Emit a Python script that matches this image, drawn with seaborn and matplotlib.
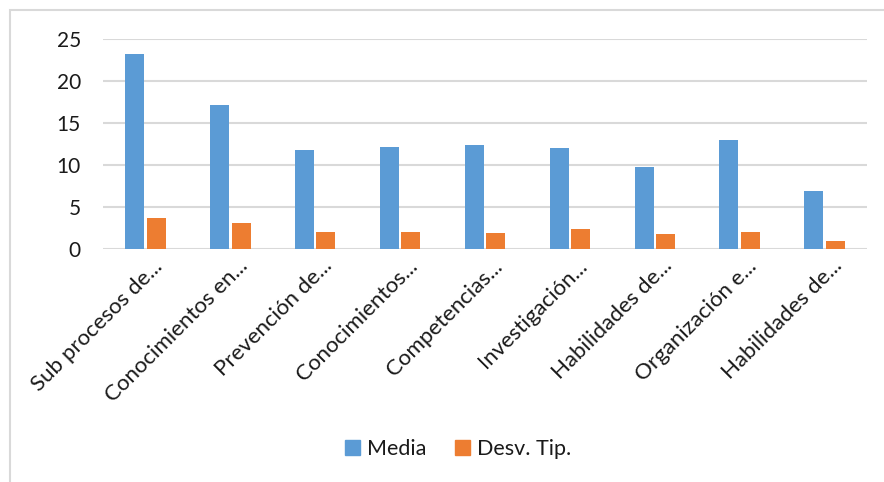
import matplotlib
matplotlib.use("Agg")
import matplotlib.pyplot as plt
import matplotlib.patches as mpatches
from matplotlib.transforms import ScaledTranslation
import seaborn as sns
import pandas as pd

categories = ["Sub procesos de...", "Conocimientos en...", "Prevención de...",
              "Conocimientos...", "Competencias...", "Investigación...",
              "Habilidades de...", "Organización e...", "Habilidades de..."]
media = [23.25, 17.2, 11.75, 12.1, 12.35, 12.0, 9.73, 12.94, 6.9]
desv = [3.74, 3.14, 2.02, 2.0, 1.95, 2.35, 1.83, 2.02, 0.95]
series = ["Media", "Desv. Tip."]
colors = ["#5B9BD5", "#ED7D31"]
yticks = [0, 5, 10, 15, 20, 25]

rows = []
for i, c in enumerate(categories):
    rows.append({"idx": i, "serie": series[0], "valor": media[i]})
    rows.append({"idx": i, "serie": series[1], "valor": desv[i]})
df = pd.DataFrame(rows)

sns.set_theme(style="white")
plt.rcParams["font.family"] = ["Lato", "DejaVu Sans"]

W, H = 884, 482
fig = plt.figure(figsize=(W / 100, H / 100), dpi=100)
ax = fig.add_axes([103 / W, 1 - 249 / H, 764 / W, 210 / H])

sns.barplot(data=df, x="idx", y="valor", hue="serie", hue_order=series,
            palette=colors, width=0.506, gap=0.115, ax=ax, legend=False,
            saturation=1, edgecolor="none")

ax.set_ylim(0, 25)
ax.set_xlim(-0.5, len(categories) - 0.5)
ax.set_yticks(yticks)
ax.set_yticklabels([str(v) for v in yticks])
ax.yaxis.grid(True, color="#d9d9d9", linewidth=1.5)
ax.set_axisbelow(True)
for s in ax.spines.values():
    s.set_visible(False)
ax.set_xlabel("")
ax.set_ylabel("")
ax.tick_params(axis="both", length=0, colors="#1a1a1a", labelsize=15)
ax.tick_params(axis="y", pad=16)
ax.set_xticks(range(len(categories)))
ax.set_xticklabels(categories, rotation=45, ha="right", va="top",
                   rotation_mode="anchor", fontsize=16)
ax.tick_params(axis="x", pad=5)
off = ScaledTranslation(7 / 100, 0, fig.dpi_scale_trans)
for lab in ax.get_xticklabels():
    lab.set_transform(lab.get_transform() + off)

handles = [mpatches.Patch(color=colors[0], label=series[0]),
           mpatches.Patch(color=colors[1], label=series[1])]
fig.legend(handles=handles, loc="center", bbox_to_anchor=(458 / W, 1 - 449 / H),
           ncol=2, frameon=False, fontsize=15.5, handlelength=0.7,
           handleheight=0.7, handletextpad=0.35, columnspacing=1.3,
           labelcolor="#1a1a1a")

frame = mpatches.Rectangle((10 / W, -0.2), 1.2, 1.2 - 10 / H,
                           transform=fig.transFigure, fill=False,
                           edgecolor="#d9d9d9", linewidth=1.5, clip_on=False)
fig.patches.append(frame)

fig.savefig("out.png", dpi=100)
